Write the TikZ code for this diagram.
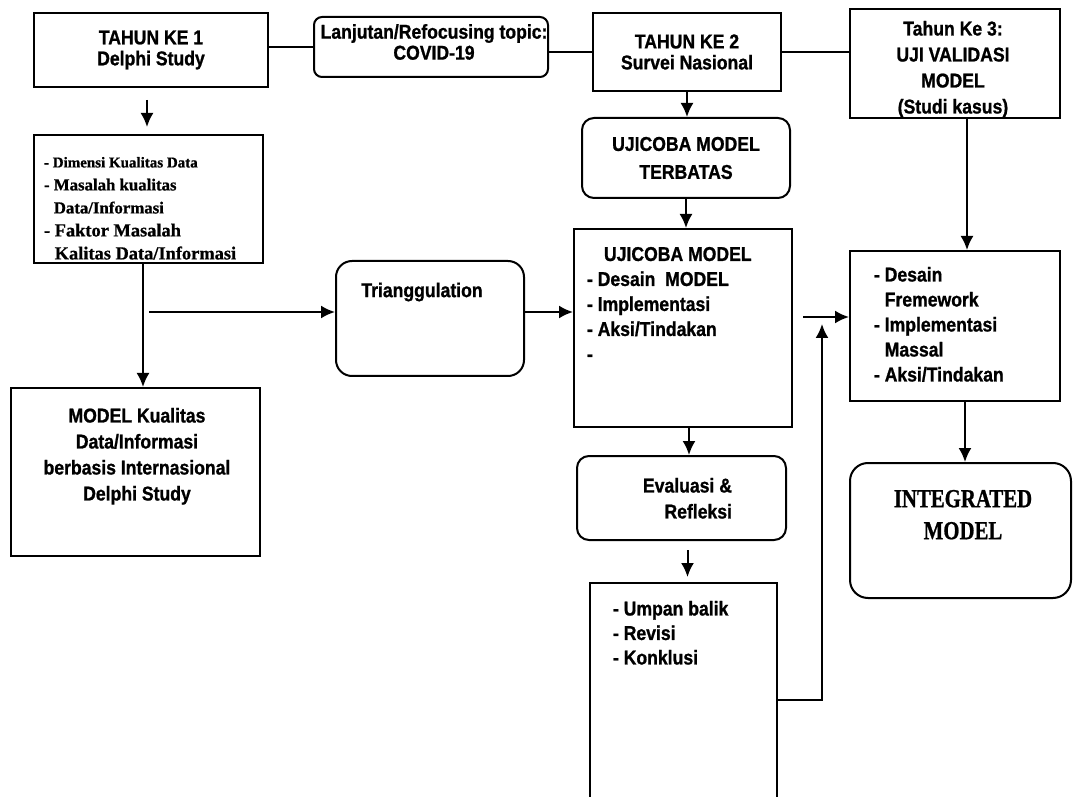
\documentclass[tikz,border=0pt]{standalone}
\usepackage{fontspec}
\setmainfont{Liberation Sans}[FakeStretch=0.88, BoldFeatures={FakeBold=1}]
\newfontfamily\timesfont{Liberation Serif}[BoldFeatures={FakeBold=0.8}]
\newfontfamily\timesnarrow{Liberation Serif}[FakeStretch=0.8, BoldFeatures={FakeBold=0.8}]
\usetikzlibrary{arrows.meta}
\tikzstyle{box}=[draw, inner sep=0pt, align=center, font=\bfseries\fontsize{10}{10.5}\selectfont]
\tikzstyle{rbox}=[box, rounded corners=6pt]
\tikzstyle{txt}=[inner sep=0pt, font=\bfseries\fontsize{10}{12.5}\selectfont]
\tikzstyle{arr}=[-{Latex[length=7pt,width=6.5pt]}]

\begin{document}
\begin{tikzpicture}[x=0.5pt, y=-0.5pt, line width=1pt]
            \useasboundingbox (0,0) rectangle (1073,797);
            \clip (0,0) rectangle (1073,797);

            \node[box, minimum width=117pt, minimum height=37pt] (th1) at (151,50) {TAHUN KE 1\\Delphi Study};
            \node[rbox, rounded corners=4pt, minimum width=117pt, minimum height=30pt] (lanj) at (431,47) {};
            \node[txt, align=center, font=\bfseries\fontsize{10}{10.5}\selectfont] (lanj-t) at (434,42)
                {Lanjutan/Refocusing topic:\\COVID-19};
            \node[box, minimum width=94pt, minimum height=39pt] (th2) at (687,52) {TAHUN KE 2\\Survei Nasional};
            \node[box, minimum width=105pt, minimum height=54.5pt] (th3) at (955,63.5) {};
            \node[txt, anchor=north, align=center, font=\bfseries\fontsize{10}{13}\selectfont] (th3-t) at (953,20)
                {Tahun Ke 3:\\UJI VALIDASI\\MODEL\\(Studi kasus)};
            \draw (th1.east |- lanj.west) -- (lanj.west);
            \draw (lanj.east |- th2.west) -- (th2.west);
            \draw (th2.east) -- (th2.east -| th3.west);

            \node[box, minimum width=114.5pt, minimum height=64pt] (dim) at (148.5,199) {};
            \node[txt, anchor=north west, align=left, font=\timesfont\bfseries\fontsize{9.2}{11.5}\selectfont] (dim-t) at (43,156)
                {{\fontsize{7.5}{11.5}\selectfont - Dimensi Kualitas Data}\\
                 {\fontsize{8.4}{11.5}\selectfont - Masalah kualitas}\\
                 {\fontsize{8.4}{11.5}\selectfont \phantom{- }Data/Informasi}\\
                 - Faktor Masalah\\
                 \phantom{- }Kalitas Data/Informasi};
            \coordinate (a1) at (147,100);
            \draw[arr, shorten >=3.5pt] (a1) -- (a1 |- dim.north);

            \node[box, minimum width=124.5pt, minimum height=84pt] (mkd) at (135.5,472) {};
            \node[txt, anchor=north, align=center, font=\bfseries\fontsize{10}{13}\selectfont] (mkd-t) at (137,407)
                {MODEL Kualitas\\Data/Informasi\\berbasis Internasional\\Delphi Study};
            \draw[arr] ([xshift=-2.75pt]dim.south) -- ([xshift=-2.75pt]dim.south |- mkd.north);

            \node[rbox, rounded corners=8pt, minimum width=94pt, minimum height=57.5pt] (tri) at (430,318.5) {};
            \node[txt] (tri-t) at (422,292) {Trianggulation};
            \coordinate (tsplit) at (149,312);
            \draw[arr] (tsplit) -- (tsplit -| tri.west);

            \node[rbox, minimum width=104pt, minimum height=40pt, font=\bfseries\fontsize{10}{14}\selectfont] (terb) at (686,158)
                {UJICOBA MODEL\\TERBATAS};
            \node[box, minimum width=109pt, minimum height=99pt] (uji) at (683,328) {};
            \node[txt, anchor=north west, align=left] (uji-t) at (586,246)
                {\hspace*{8.5pt}UJICOBA MODEL\\- Desain~ MODEL\\- Implementasi\\- Aksi/Tindakan\\-};
            \node[rbox, minimum width=104.5pt, minimum height=42pt] (eva) at (681.5,498) {};
            \node[txt, anchor=north east, align=right, font=\bfseries\fontsize{10}{13}\selectfont] (eva-t) at (733,477)
                {Evaluasi \&\\Refleksi};
            \node[box, minimum width=93.5pt, minimum height=118.5pt] (umb) at (683.5,701.5) {};
            \node[txt, anchor=north west, align=left, font=\bfseries\fontsize{10}{12.25}\selectfont] (umb-t) at (612,600)
                {- Umpan balik\\- Revisi\\- Konklusi};
            \draw[arr] (th2.south) -- (th2.south |- terb.north);
            \draw[arr] (terb.south) -- (terb.south |- uji.north);
            \draw[arr] (tri.east |- tsplit) -- (uji.west |- tsplit);
            \draw[arr] ([xshift=3pt]uji.south) -- ([xshift=3pt]uji.south |- eva.north);
            \draw[arr, shorten <=4.5pt, shorten >=2.5pt] ([xshift=3pt]eva.south) -- ([xshift=3pt]eva.south |- umb.north);

            \node[box, minimum width=105pt, minimum height=75pt] (fre) at (955,326) {};
            \node[txt, anchor=north west, align=left] (fre-t) at (873,266)
                {- Desain\\\phantom{- }Fremework\\- Implementasi\\\phantom{- }Massal\\- Aksi/Tindakan};
            \node[rbox, rounded corners=9pt, minimum width=110.5pt, minimum height=67.5pt] (intg) at (960.5,530.5) {};
            \node[txt, anchor=north, align=center, font=\timesnarrow\bfseries\fontsize{13}{16}\selectfont] (intg-t) at (963,489)
                {INTEGRATED\\MODEL};
            \coordinate (fbturn) at (822,700);
            \coordinate (fbtop) at (822,324);
            \draw[arr] (umb.east |- fbturn) -- (fbturn) -- (fbtop);
            \coordinate (fin) at (803,317);
            \draw[arr] (fin) -- (fin -| fre.west);
            \draw[arr] ([xshift=6pt]th3.south) -- ([xshift=6pt]th3.south |- fre.north);
            \draw[arr] ([xshift=5pt]fre.south) -- ([xshift=5pt]fre.south |- intg.north);
        \end{tikzpicture}
\end{document}
